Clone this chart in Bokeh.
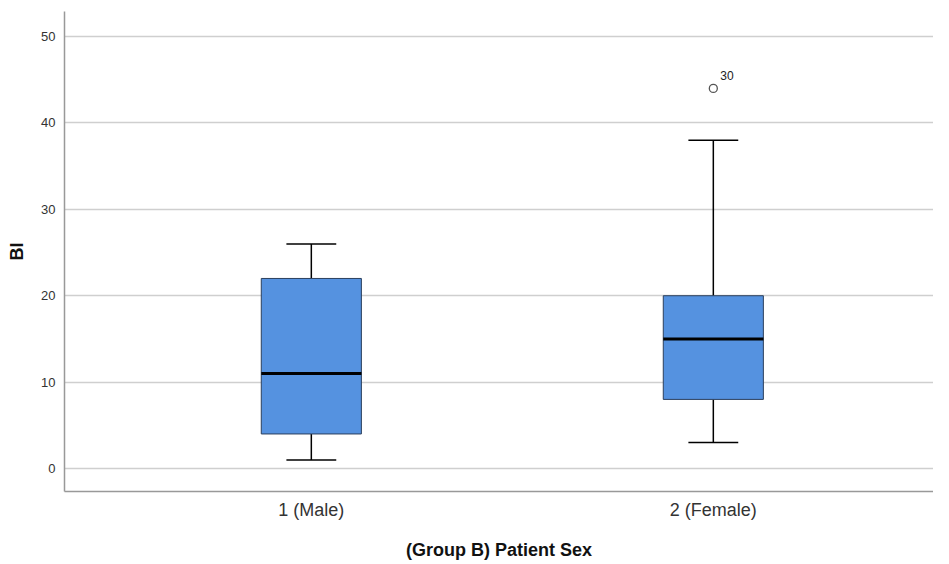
from bokeh.plotting import figure
from bokeh.models import ColumnDataSource, FixedTicker, Range1d
from bokeh.core.properties import value
from bokeh.embed import file_html
from bokeh.resources import INLINE

# data
categories = ["1 (Male)", "2 (Female)"]
positions = [1, 2]
whisker_low = [1, 3]
q1 = [4, 8]
median = [11, 15]
q3 = [22, 20]
whisker_high = [26, 38]
outlier_x = [2]
outlier_y = [44]
outlier_labels = ["30"]
y_ticks = [0, 10, 20, 30, 40, 50]

BOX_W = 0.249
CAP_W = 0.124

src = ColumnDataSource(dict(
    x=positions, lo=whisker_low, q1=q1, med=median, q3=q3, hi=whisker_high,
    left=[p - BOX_W / 2 for p in positions], right=[p + BOX_W / 2 for p in positions],
    cl=[p - CAP_W / 2 for p in positions], cr=[p + CAP_W / 2 for p in positions],
))

p = figure(width=933, height=564, output_backend="svg", toolbar_location=None,
           x_range=Range1d(0.386, 2.5477), y_range=Range1d(-2.66, 52.9),
           min_border_left=64, min_border_right=0, min_border_top=11, min_border_bottom=73)
p.background_fill_color = "#ffffff"
p.border_fill_color = "#ffffff"
p.outline_line_color = None

# whiskers
p.segment(x0="x", y0="q3", x1="x", y1="hi", source=src, line_color="black", line_width=1.5)
p.segment(x0="x", y0="lo", x1="x", y1="q1", source=src, line_color="black", line_width=1.5)
p.segment(x0="cl", y0="hi", x1="cr", y1="hi", source=src, line_color="black", line_width=1.5)
p.segment(x0="cl", y0="lo", x1="cr", y1="lo", source=src, line_color="black", line_width=1.5)

# boxes
p.quad(left="left", right="right", bottom="q1", top="q3", source=src,
       fill_color="#5592e0", line_color="#2b3f5c", line_width=1)
p.segment(x0="left", y0="med", x1="right", y1="med", source=src, line_color="black", line_width=3)

# outlier
p.scatter(outlier_x, outlier_y, marker="circle", size=8, fill_color="white",
          line_color="#555555", line_width=1.3)
p.text([x + 0.015 for x in outlier_x], outlier_y, text=outlier_labels, x_offset=1, y_offset=-8,
       text_font=value("Liberation Sans"), text_font_size="12px", text_color="#222222",
       text_baseline="bottom", text_align="left")

# axes
p.xaxis.ticker = FixedTicker(ticks=positions)
p.xaxis.major_label_overrides = {pos: c for pos, c in zip(positions, categories)}
p.yaxis.ticker = FixedTicker(ticks=y_ticks)
for ax in (p.xaxis[0], p.yaxis[0]):
    ax.axis_line_color = "#999999"
    ax.axis_line_width = 1.5
    ax.major_tick_line_color = None
    ax.minor_tick_line_color = None
    ax.major_tick_out = 0
    ax.major_tick_in = 0
    ax.minor_tick_out = 0
    ax.minor_tick_in = 0
    ax.major_label_text_font = "Liberation Sans"
    ax.major_label_text_color = "#333333"
    ax.axis_label_text_font = "Liberation Sans"
    ax.axis_label_text_font_style = "bold"
    ax.axis_label_text_font_size = "18px"
    ax.axis_label_text_color = "#111111"
p.xaxis.major_label_text_font_size = "18px"
p.xaxis.major_label_standoff = 8
p.xaxis.axis_label = "(Group B) Patient Sex"
p.xaxis.axis_label_standoff = 17
p.yaxis.major_label_text_font_size = "13px"
p.yaxis.major_label_standoff = 9
p.yaxis.axis_label = "BI"
p.yaxis.axis_label_standoff = 11

p.xgrid.grid_line_color = None
p.ygrid.grid_line_color = "#cfcfcf"
p.ygrid.grid_line_width = 1.5

open("out.html", "w").write(file_html(p, INLINE))
